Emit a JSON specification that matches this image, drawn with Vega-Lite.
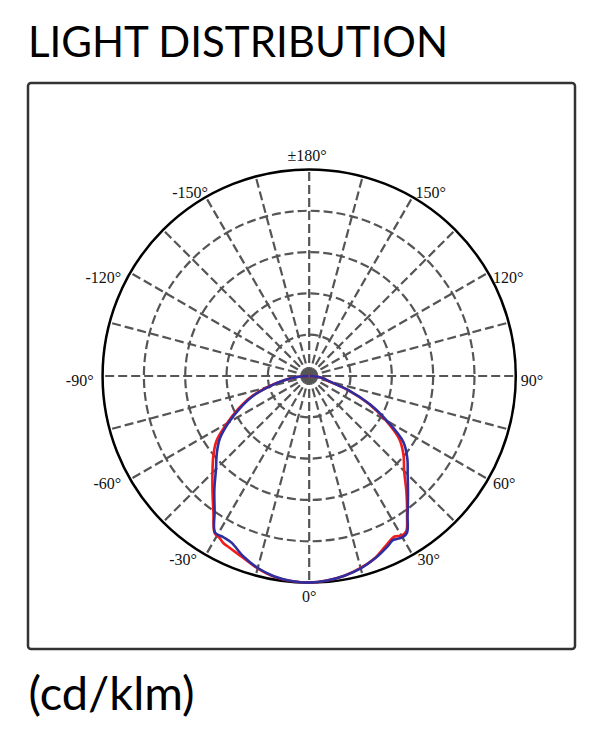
{
  "$schema": "https://vega.github.io/schema/vega-lite/v6.json",
  "width": 547,
  "height": 566,
  "autosize": {"type": "none"},
  "padding": {"left": 28, "top": 83, "right": 31, "bottom": 88},
  "background": "#ffffff",
  "config": {
    "view": {"stroke": "#333333", "strokeWidth": 2.5, "cornerRadius": 3},
    "axisX": {"grid": false, "domain": false, "ticks": false, "labels": false,
      "titleFont": "Lato", "titleFontSize": 47, "titleFontWeight": "normal", "titleColor": "#000000",
      "titleAlign": "left", "titleAnchor": "start", "titleBaseline": "alphabetic", "titlePadding": 60}
  },
  "title": {
    "text": "LIGHT DISTRIBUTION",
    "anchor": "start",
    "frame": "group",
    "font": "Lato",
    "fontSize": 42,
    "fontWeight": "normal",
    "color": "#000000",
    "baseline": "alphabetic",
    "offset": -16
  },
  "datasets": {
    "rings": [{"r": 100}, {"r": 200}, {"r": 300}, {"r": 400}],
    "outer": [{"r": 500}],
    "spokes": [
      {"angle": 0, "inner": 0, "outer": 500}, {"angle": 15, "inner": 0, "outer": 500}, {"angle": 30, "inner": 0, "outer": 500},
      {"angle": 45, "inner": 0, "outer": 500}, {"angle": 60, "inner": 0, "outer": 500}, {"angle": 75, "inner": 0, "outer": 500},
      {"angle": 90, "inner": 0, "outer": 500}, {"angle": 105, "inner": 0, "outer": 500}, {"angle": 120, "inner": 0, "outer": 500},
      {"angle": 135, "inner": 0, "outer": 500}, {"angle": 150, "inner": 0, "outer": 500}, {"angle": 165, "inner": 0, "outer": 500},
      {"angle": 180, "inner": 0, "outer": 500}, {"angle": 195, "inner": 0, "outer": 500}, {"angle": 210, "inner": 0, "outer": 500},
      {"angle": 225, "inner": 0, "outer": 500}, {"angle": 240, "inner": 0, "outer": 500}, {"angle": 255, "inner": 0, "outer": 500},
      {"angle": 270, "inner": 0, "outer": 500}, {"angle": 285, "inner": 0, "outer": 500}, {"angle": 300, "inner": 0, "outer": 500},
      {"angle": 315, "inner": 0, "outer": 500}, {"angle": 330, "inner": 0, "outer": 500}, {"angle": 345, "inner": 0, "outer": 500}
    ],
    "labels": [
      {"angle": 0, "label": "0°"}, {"angle": 30, "label": "30°"}, {"angle": 60, "label": "60°"},
      {"angle": 90, "label": "90°"}, {"angle": 120, "label": "120°"}, {"angle": 150, "label": "150°"},
      {"angle": 180, "label": "±180°"}, {"angle": -30, "label": "-30°"}, {"angle": -60, "label": "-60°"},
      {"angle": -90, "label": "-90°"}, {"angle": -120, "label": "-120°"}, {"angle": -150, "label": "-150°"}
    ],
    "curves": [
      {"plane": "C0/180", "angle": -90, "cd": 2}, {"plane": "C0/180", "angle": -85, "cd": 32},
      {"plane": "C0/180", "angle": -80, "cd": 65}, {"plane": "C0/180", "angle": -75, "cd": 105},
      {"plane": "C0/180", "angle": -70, "cd": 152}, {"plane": "C0/180", "angle": -65, "cd": 190},
      {"plane": "C0/180", "angle": -60, "cd": 230}, {"plane": "C0/180", "angle": -55, "cd": 274},
      {"plane": "C0/180", "angle": -50, "cd": 303}, {"plane": "C0/180", "angle": -45, "cd": 331},
      {"plane": "C0/180", "angle": -40, "cd": 364}, {"plane": "C0/180", "angle": -35, "cd": 404},
      {"plane": "C0/180", "angle": -31, "cd": 444}, {"plane": "C0/180", "angle": -29, "cd": 448},
      {"plane": "C0/180", "angle": -27, "cd": 455}, {"plane": "C0/180", "angle": -25, "cd": 458},
      {"plane": "C0/180", "angle": -20, "cd": 468}, {"plane": "C0/180", "angle": -15, "cd": 482},
      {"plane": "C0/180", "angle": -10, "cd": 493}, {"plane": "C0/180", "angle": -5, "cd": 498},
      {"plane": "C0/180", "angle": 0, "cd": 500}, {"plane": "C0/180", "angle": 5, "cd": 497},
      {"plane": "C0/180", "angle": 10, "cd": 491}, {"plane": "C0/180", "angle": 15, "cd": 481},
      {"plane": "C0/180", "angle": 20, "cd": 468}, {"plane": "C0/180", "angle": 25, "cd": 448},
      {"plane": "C0/180", "angle": 28, "cd": 440}, {"plane": "C0/180", "angle": 30, "cd": 446},
      {"plane": "C0/180", "angle": 32, "cd": 443}, {"plane": "C0/180", "angle": 35, "cd": 413},
      {"plane": "C0/180", "angle": 40, "cd": 366}, {"plane": "C0/180", "angle": 45, "cd": 325},
      {"plane": "C0/180", "angle": 50, "cd": 298}, {"plane": "C0/180", "angle": 55, "cd": 266},
      {"plane": "C0/180", "angle": 60, "cd": 213}, {"plane": "C0/180", "angle": 65, "cd": 159},
      {"plane": "C0/180", "angle": 70, "cd": 100}, {"plane": "C0/180", "angle": 75, "cd": 49},
      {"plane": "C0/180", "angle": 80, "cd": 35}, {"plane": "C0/180", "angle": 85, "cd": 18},
      {"plane": "C0/180", "angle": 90, "cd": 2},
      {"plane": "C90/270", "angle": -90, "cd": 2}, {"plane": "C90/270", "angle": -85, "cd": 31},
      {"plane": "C90/270", "angle": -80, "cd": 63}, {"plane": "C90/270", "angle": -75, "cd": 102},
      {"plane": "C90/270", "angle": -70, "cd": 148}, {"plane": "C90/270", "angle": -65, "cd": 185},
      {"plane": "C90/270", "angle": -60, "cd": 225}, {"plane": "C90/270", "angle": -55, "cd": 264},
      {"plane": "C90/270", "angle": -50, "cd": 292}, {"plane": "C90/270", "angle": -45, "cd": 319},
      {"plane": "C90/270", "angle": -40, "cd": 357}, {"plane": "C90/270", "angle": -35, "cd": 399},
      {"plane": "C90/270", "angle": -31, "cd": 442}, {"plane": "C90/270", "angle": -28, "cd": 442},
      {"plane": "C90/270", "angle": -25, "cd": 445}, {"plane": "C90/270", "angle": -20, "cd": 465},
      {"plane": "C90/270", "angle": -15, "cd": 481}, {"plane": "C90/270", "angle": -10, "cd": 492},
      {"plane": "C90/270", "angle": -5, "cd": 498}, {"plane": "C90/270", "angle": 0, "cd": 500},
      {"plane": "C90/270", "angle": 5, "cd": 497}, {"plane": "C90/270", "angle": 10, "cd": 491},
      {"plane": "C90/270", "angle": 15, "cd": 482}, {"plane": "C90/270", "angle": 20, "cd": 469},
      {"plane": "C90/270", "angle": 25, "cd": 453}, {"plane": "C90/270", "angle": 27, "cd": 446},
      {"plane": "C90/270", "angle": 30, "cd": 451}, {"plane": "C90/270", "angle": 32, "cd": 447},
      {"plane": "C90/270", "angle": 35, "cd": 415}, {"plane": "C90/270", "angle": 40, "cd": 372},
      {"plane": "C90/270", "angle": 45, "cd": 337}, {"plane": "C90/270", "angle": 50, "cd": 310},
      {"plane": "C90/270", "angle": 55, "cd": 278}, {"plane": "C90/270", "angle": 60, "cd": 218},
      {"plane": "C90/270", "angle": 65, "cd": 163}, {"plane": "C90/270", "angle": 70, "cd": 103},
      {"plane": "C90/270", "angle": 75, "cd": 51}, {"plane": "C90/270", "angle": 80, "cd": 36},
      {"plane": "C90/270", "angle": 85, "cd": 19}, {"plane": "C90/270", "angle": 90, "cd": 2}
    ]
  },
  "layer": [
    {
      "data": {"name": "rings"},
      "transform": [{"calculate": "0", "as": "cx"}, {"calculate": "0", "as": "cy"}],
      "mark": {"type": "point", "shape": "circle", "filled": false, "opacity": 1, "stroke": "#555555", "strokeWidth": 2.2, "strokeDash": [9, 4]},
      "encoding": {
        "x": {"field": "cx", "type": "quantitative", "scale": {"domain": [-680.5, 643.3], "nice": false, "zero": false}, "title": "(cd/klm)"},
        "y": {"field": "cy", "type": "quantitative", "scale": {"domain": [-660.7, 709.1], "nice": false, "zero": false}, "axis": null},
        "size": {"field": "r", "type": "quantitative", "scale": {"type": "pow", "exponent": 2, "domain": [0, 500], "range": [0, 170734]}, "legend": null}
      }
    },
    {
      "data": {"name": "spokes"},
      "transform": [
        {"calculate": "datum.inner*sin(datum.angle*PI/180)", "as": "xa"},
        {"calculate": "-datum.inner*cos(datum.angle*PI/180)", "as": "ya"},
        {"calculate": "datum.outer*sin(datum.angle*PI/180)", "as": "xb"},
        {"calculate": "-datum.outer*cos(datum.angle*PI/180)", "as": "yb"}
      ],
      "mark": {"type": "rule", "stroke": "#555555", "strokeWidth": 2.2, "strokeDash": [9, 4]},
      "encoding": {
        "x": {"field": "xa", "type": "quantitative", "scale": {"domain": [-680.5, 643.3], "nice": false, "zero": false}, "title": "(cd/klm)"},
        "y": {"field": "ya", "type": "quantitative", "scale": {"domain": [-660.7, 709.1], "nice": false, "zero": false}, "axis": null},
        "x2": {"field": "xb"},
        "y2": {"field": "yb"}
      }
    },
    {
      "data": {"name": "outer"},
      "transform": [{"calculate": "0", "as": "cx"}, {"calculate": "0", "as": "cy"}],
      "mark": {"type": "point", "shape": "circle", "filled": false, "opacity": 1, "stroke": "#000000", "strokeWidth": 2.5},
      "encoding": {
        "x": {"field": "cx", "type": "quantitative", "scale": {"domain": [-680.5, 643.3], "nice": false, "zero": false}, "title": "(cd/klm)"},
        "y": {"field": "cy", "type": "quantitative", "scale": {"domain": [-660.7, 709.1], "nice": false, "zero": false}, "axis": null},
        "size": {"field": "r", "type": "quantitative", "scale": {"type": "pow", "exponent": 2, "domain": [0, 500], "range": [0, 170734]}, "legend": null}
      }
    },
    {
      "data": {"name": "outer"},
      "transform": [{"calculate": "0", "as": "cx"}, {"calculate": "0", "as": "cy"}],
      "mark": {"type": "point", "shape": "circle", "filled": true, "opacity": 1, "color": "#555555", "size": 190},
      "encoding": {
        "x": {"field": "cx", "type": "quantitative", "scale": {"domain": [-680.5, 643.3], "nice": false, "zero": false}, "title": "(cd/klm)"},
        "y": {"field": "cy", "type": "quantitative", "scale": {"domain": [-660.7, 709.1], "nice": false, "zero": false}, "axis": null}
      }
    },
    {
      "data": {"name": "curves"},
      "transform": [
        {"filter": "datum.plane === 'C0/180'"},
        {"calculate": "datum.cd*sin(datum.angle*PI/180)", "as": "px"},
        {"calculate": "-datum.cd*cos(datum.angle*PI/180)", "as": "py"}
      ],
      "mark": {"type": "line", "color": "#f21c1c", "strokeWidth": 2.6, "interpolate": "catmull-rom"},
      "encoding": {
        "x": {"field": "px", "type": "quantitative", "scale": {"domain": [-680.5, 643.3], "nice": false, "zero": false}, "title": "(cd/klm)"},
        "y": {"field": "py", "type": "quantitative", "scale": {"domain": [-660.7, 709.1], "nice": false, "zero": false}, "axis": null},
        "order": {"field": "angle", "type": "quantitative"}
      }
    },
    {
      "data": {"name": "curves"},
      "transform": [
        {"filter": "datum.plane === 'C90/270'"},
        {"calculate": "datum.cd*sin(datum.angle*PI/180)", "as": "px"},
        {"calculate": "-datum.cd*cos(datum.angle*PI/180)", "as": "py"}
      ],
      "mark": {"type": "line", "color": "#2e2e9e", "strokeWidth": 2.6, "interpolate": "catmull-rom"},
      "encoding": {
        "x": {"field": "px", "type": "quantitative", "scale": {"domain": [-680.5, 643.3], "nice": false, "zero": false}, "title": "(cd/klm)"},
        "y": {"field": "py", "type": "quantitative", "scale": {"domain": [-660.7, 709.1], "nice": false, "zero": false}, "axis": null},
        "order": {"field": "angle", "type": "quantitative"}
      }
    },
    {
      "data": {"name": "labels"},
      "transform": [
        {"filter": "datum.angle > 0 && datum.angle < 150"},
        {"calculate": "500*sin(datum.angle*PI/180)", "as": "lx"},
        {"calculate": "-500*cos(datum.angle*PI/180)", "as": "ly"}
      ],
      "mark": {"type": "text", "font": "Liberation Serif", "fontSize": 16, "color": "#111111", "align": "left", "baseline": "middle", "dx": 5, "dy": 5},
      "encoding": {
        "x": {"field": "lx", "type": "quantitative", "scale": {"domain": [-680.5, 643.3], "nice": false, "zero": false}, "title": "(cd/klm)"},
        "y": {"field": "ly", "type": "quantitative", "scale": {"domain": [-660.7, 709.1], "nice": false, "zero": false}, "axis": null},
        "text": {"field": "label", "type": "nominal"}
      }
    },
    {
      "data": {"name": "labels"},
      "transform": [
        {"filter": "datum.angle < 0 && datum.angle > -150"},
        {"calculate": "500*sin(datum.angle*PI/180)", "as": "lx"},
        {"calculate": "-500*cos(datum.angle*PI/180)", "as": "ly"}
      ],
      "mark": {"type": "text", "font": "Liberation Serif", "fontSize": 16, "color": "#111111", "align": "right", "baseline": "middle", "dx": -9, "dy": 5},
      "encoding": {
        "x": {"field": "lx", "type": "quantitative", "scale": {"domain": [-680.5, 643.3], "nice": false, "zero": false}, "title": "(cd/klm)"},
        "y": {"field": "ly", "type": "quantitative", "scale": {"domain": [-660.7, 709.1], "nice": false, "zero": false}, "axis": null},
        "text": {"field": "label", "type": "nominal"}
      }
    },
    {
      "data": {"name": "labels"},
      "transform": [
        {"filter": "datum.angle == 150"},
        {"calculate": "500*sin(datum.angle*PI/180)", "as": "lx"},
        {"calculate": "-500*cos(datum.angle*PI/180)", "as": "ly"}
      ],
      "mark": {"type": "text", "font": "Liberation Serif", "fontSize": 16, "color": "#111111", "align": "left", "baseline": "alphabetic", "dx": 3, "dy": 1},
      "encoding": {
        "x": {"field": "lx", "type": "quantitative", "scale": {"domain": [-680.5, 643.3], "nice": false, "zero": false}, "title": "(cd/klm)"},
        "y": {"field": "ly", "type": "quantitative", "scale": {"domain": [-660.7, 709.1], "nice": false, "zero": false}, "axis": null},
        "text": {"field": "label", "type": "nominal"}
      }
    },
    {
      "data": {"name": "labels"},
      "transform": [
        {"filter": "datum.angle == -150"},
        {"calculate": "500*sin(datum.angle*PI/180)", "as": "lx"},
        {"calculate": "-500*cos(datum.angle*PI/180)", "as": "ly"}
      ],
      "mark": {"type": "text", "font": "Liberation Serif", "fontSize": 16, "color": "#111111", "align": "right", "baseline": "alphabetic", "dx": 2, "dy": 1},
      "encoding": {
        "x": {"field": "lx", "type": "quantitative", "scale": {"domain": [-680.5, 643.3], "nice": false, "zero": false}, "title": "(cd/klm)"},
        "y": {"field": "ly", "type": "quantitative", "scale": {"domain": [-660.7, 709.1], "nice": false, "zero": false}, "axis": null},
        "text": {"field": "label", "type": "nominal"}
      }
    },
    {
      "data": {"name": "labels"},
      "transform": [
        {"filter": "datum.angle == 0"},
        {"calculate": "500*sin(datum.angle*PI/180)", "as": "lx"},
        {"calculate": "-500*cos(datum.angle*PI/180)", "as": "ly"}
      ],
      "mark": {"type": "text", "font": "Liberation Serif", "fontSize": 16, "color": "#111111", "align": "center", "baseline": "middle", "dy": 14},
      "encoding": {
        "x": {"field": "lx", "type": "quantitative", "scale": {"domain": [-680.5, 643.3], "nice": false, "zero": false}, "title": "(cd/klm)"},
        "y": {"field": "ly", "type": "quantitative", "scale": {"domain": [-660.7, 709.1], "nice": false, "zero": false}, "axis": null},
        "text": {"field": "label", "type": "nominal"}
      }
    },
    {
      "data": {"name": "labels"},
      "transform": [
        {"filter": "datum.angle == 180"},
        {"calculate": "500*sin(datum.angle*PI/180)", "as": "lx"},
        {"calculate": "-500*cos(datum.angle*PI/180)", "as": "ly"}
      ],
      "mark": {"type": "text", "font": "Liberation Serif", "fontSize": 16, "color": "#111111", "align": "center", "baseline": "middle", "dx": -2, "dy": -13},
      "encoding": {
        "x": {"field": "lx", "type": "quantitative", "scale": {"domain": [-680.5, 643.3], "nice": false, "zero": false}, "title": "(cd/klm)"},
        "y": {"field": "ly", "type": "quantitative", "scale": {"domain": [-660.7, 709.1], "nice": false, "zero": false}, "axis": null},
        "text": {"field": "label", "type": "nominal"}
      }
    }
  ]
}
